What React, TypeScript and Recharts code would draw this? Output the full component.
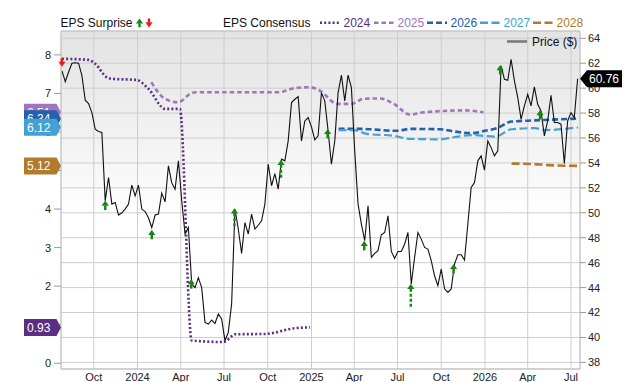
import React from 'react';
import {
  ComposedChart,
  Line,
  Scatter,
  XAxis,
  YAxis,
  CartesianGrid,
  ReferenceDot,
  ReferenceLine,
} from 'recharts';

const DAY = 86400000;
const T = (s: string) => Date.parse(s + 'T00:00:00Z');

// ---------- axes ----------
const xDomainDates = ['2023-07-24', '2026-07-20'];
const xTickDates = [
  '2023-10-01', '2024-01-01', '2024-04-01', '2024-07-01', '2024-10-01', '2025-01-01',
  '2025-04-01', '2025-07-01', '2025-10-01', '2026-01-01', '2026-04-01', '2026-07-01',
];
const xTickLabels = ['Oct', '2024', 'Apr', 'Jul', 'Oct', '2025', 'Apr', 'Jul', 'Oct', '2026', 'Apr', 'Jul'];
const epsTicks = [0, 1, 2, 3, 4, 5, 6, 7, 8];
const epsDomain = [-0.15, 8.62];
const priceTicks = [38, 40, 42, 44, 46, 48, 50, 52, 54, 56, 58, 60, 62, 64];
const priceDomain = [37.47, 64.585];

// ---------- price (weekly closes) ----------
const priceStart = '2023-07-26';
const weeklyPrice = [
  61.38, 60.52, 61.3, 62.0, 62.04, 62.0, 61.0, 59.03, 58.76, 58.04,
  56.7, 56.52, 56.44, 50.96, 52.83, 50.7, 50.83, 49.82, 50.0, 50.3,
  50.7, 52.22, 51.36, 52.22, 50.3, 50.1, 49.6, 48.82, 49.82, 49.9,
  51.58, 50.88, 53.77, 52.4, 51.9, 54.17, 51.0, 48.3, 48.82, 44.29,
  44.0, 44.8, 44.0, 41.21, 41.08, 41.4, 41.13, 41.88, 41.48, 39.75,
  40.41, 42.69, 50.3, 48.7, 46.74, 49.22, 48.3, 49.9, 48.7, 49.0,
  49.36, 50.7, 53.9, 52.17, 53.15, 51.9, 54.3, 54.17, 55.77, 58.84,
  59.11, 59.32, 55.77, 57.37, 57.64, 56.9, 55.85, 56.17, 59.64, 58.98,
  56.57, 53.9, 55.77, 59.64, 61.04, 58.98, 61.04, 60.04, 54.97, 50.7,
  49.1, 47.76, 50.56, 46.42, 46.74, 46.96, 48.24, 48.42, 49.76, 46.9,
  46.34, 46.9, 46.9, 47.49, 48.42, 44.29, 46.42, 48.42, 47.89, 47.22,
  47.09, 46.16, 44.95, 44.15, 45.49, 43.9, 43.62, 43.89, 45.89, 46.64,
  46.64, 46.21, 49.1, 52.03, 52.43, 54.17, 54.57, 53.42, 55.77, 55.23,
  54.57, 54.97, 61.78, 60.71, 60.63, 62.32, 60.58, 59.24, 57.51, 58.58,
  59.51, 58.58, 60.1, 58.71, 58.17, 56.17, 57.37, 59.43, 57.24, 57.24,
  57.11, 53.95, 57.37, 58.04, 57.64, 60.76,
];
const lastPrice = 60.76;

// ---------- EPS consensus by fiscal year ----------
const cons2024: [string, number][] = [
  ['2023-07-26', 7.9], ['2023-09-20', 7.87], ['2023-10-04', 7.77], ['2023-10-28', 7.42],
  ['2023-11-08', 7.38], ['2023-12-30', 7.35], ['2024-01-24', 7.12], ['2024-02-28', 6.6],
  ['2024-03-30', 6.6], ['2024-04-24', 0.59], ['2024-06-30', 0.55], ['2024-07-25', 0.75],
  ['2024-09-26', 0.76], ['2024-11-28', 0.91], ['2024-12-29', 0.93],
];
const cons2025: [string, number][] = [
  ['2024-01-30', 7.29], ['2024-02-28', 6.86], ['2024-03-27', 6.77], ['2024-04-21', 6.99],
  ['2024-05-02', 7.03], ['2024-10-23', 7.03], ['2024-11-28', 7.14], ['2024-12-29', 7.16],
  ['2025-01-19', 7.07], ['2025-02-24', 6.73], ['2025-03-27', 6.73], ['2025-04-20', 6.86],
  ['2025-05-26', 6.87], ['2025-06-23', 6.73], ['2025-07-28', 6.45], ['2025-08-25', 6.51],
  ['2025-11-20', 6.56], ['2025-12-29', 6.51],
];
const cons2026: [string, number][] = [
  ['2025-02-27', 6.08], ['2025-04-14', 6.08], ['2025-06-30', 6.03], ['2025-07-28', 6.08],
  ['2025-09-29', 6.07], ['2025-10-30', 6.01], ['2025-12-04', 5.97], ['2026-01-01', 6.03],
  ['2026-01-26', 6.1], ['2026-02-26', 6.27], ['2026-04-16', 6.3], ['2026-07-16', 6.35],
];
const cons2027: [string, number][] = [
  ['2025-02-27', 6.05], ['2025-03-30', 6.05], ['2025-04-28', 5.95], ['2025-06-23', 5.9],
  ['2025-07-28', 5.82], ['2025-09-29', 5.81], ['2025-10-30', 5.87], ['2025-12-04', 5.92],
  ['2026-01-23', 5.88], ['2026-02-26', 6.07], ['2026-04-16', 6.1], ['2026-05-07', 6.05],
  ['2026-07-16', 6.12],
];
const cons2028: [string, number][] = [
  ['2026-02-26', 5.18], ['2026-04-09', 5.17], ['2026-05-14', 5.14], ['2026-07-16', 5.12],
];
const currentConsensus = { '2024': 0.93, '2025': 6.51, '2026': 6.34, '2027': 6.12, '2028': 5.12 };

// ---------- EPS surprises (date, price at arrow tip, dashed tail end or null) ----------
const beatDates = [
  '2023-10-25', '2024-01-31', '2024-04-23', '2024-07-23', '2024-10-29', '2025-02-04',
  '2025-04-22', '2025-07-29', '2025-10-27', '2026-02-02', '2026-04-27',
];
const beatTips = [50.98, 48.64, 44.68, 50.37, 54.25, 56.73, 47.75, 44.3, 45.9, 61.86, 58.25];
const beatTails: (number | null)[] = [null, null, null, 48.88, 52.8, null, null, 42.3, null, null, null];
const missDates = ['2023-07-26'];
const missTips = [61.72];

// ---------- styles ----------
const GREEN = '#17861a';
const RED = '#e8191a';
const FONT = '"Liberation Sans", Arial, sans-serif';

const consSeries = [
  { year: '2024', pts: cons2024, color: '#5b2d84', dash: '2 2.2', width: 2.6 },
  { year: '2025', pts: cons2025, color: '#a174be', dash: '4.5 3', width: 2.6 },
  { year: '2026', pts: cons2026, color: '#2260b0', dash: '6 3', width: 2.6 },
  { year: '2027', pts: cons2027, color: '#43a2d2', dash: '8 3.5', width: 2.2 },
  { year: '2028', pts: cons2028, color: '#b27b2c', dash: '8 3.5', width: 2.6 },
];
const badgeOrder = ['2025', '2026', '2027', '2028', '2024'];

const priceData = weeklyPrice.map((v, i) => ({ t: T(priceStart) + i * 7 * DAY, v }));
const toPts = (arr: [string, number][]) => arr.map(([d, v]) => ({ t: T(d), v }));
const beatData = beatDates.map((d, i) => ({ t: T(d), v: beatTips[i], tail: beatTails[i] }));
const missData = missDates.map((d, i) => ({ t: T(d), v: missTips[i] }));
const xTicks = xTickDates.map(T);
const xDomain = xDomainDates.map(T);

const UpArrow = (p: any) => {
  const { cx, cy, payload } = p;
  return (
    <g>
      <polygon points={`${cx},${cy} ${cx - 3.6},${cy + 5.2} ${cx + 3.6},${cy + 5.2}`} fill={GREEN} />
      {payload && payload.tail == null && (
        <rect x={cx - 1.25} y={cy + 5} width={2.5} height={4.5} fill={GREEN} />
      )}
    </g>
  );
};
const DownArrow = (p: any) => {
  const { cx, cy } = p;
  return (
    <g>
      <rect x={cx - 1.25} y={cy - 8.5} width={2.5} height={4} fill={RED} />
      <polygon points={`${cx},${cy} ${cx - 3.6},${cy - 5} ${cx + 3.6},${cy - 5}`} fill={RED} />
    </g>
  );
};

const leftBadge = (fill: string, label: string) => (p: any) => {
  const { cx, cy } = p;
  return (
    <g>
      <polygon
        points={`${cx - 37},${cy - 8.5} ${cx - 4.5},${cy - 8.5} ${cx},${cy} ${cx - 4.5},${cy + 8.5} ${cx - 37},${cy + 8.5}`}
        fill={fill}
      />
      <text x={cx - 34} y={cy + 4.2} fill="#fff" fontSize={12} fontFamily={FONT}>
        {label}
      </text>
    </g>
  );
};
const priceBadge = (p: any) => {
  const { cx, cy } = p;
  return (
    <g>
      <polygon
        points={`${cx},${cy} ${cx + 7},${cy - 8.5} ${cx + 42},${cy - 8.5} ${cx + 42},${cy + 8.5} ${cx + 7},${cy + 8.5}`}
        fill="#000"
      />
      <text x={cx + 9} y={cy + 4.2} fill="#fff" fontSize={12} fontFamily={FONT}>
        {lastPrice.toFixed(2)}
      </text>
    </g>
  );
};

const fmtX = (t: number) => {
  const i = xTicks.indexOf(t);
  return i >= 0 ? xTickLabels[i] : '';
};

const MARGIN = { top: 31, right: 0, bottom: 0, left: 0 };

export default function App() {
  return (
    <div style={{ position: 'relative', width: 640, height: 382, fontFamily: FONT, background: '#fff' }}>
      <style>{'body{margin:0;}'}</style>
      <div
        style={{
          position: 'absolute',
          left: 61,
          top: 31,
          width: 519,
          height: 338,
          background: 'linear-gradient(to bottom, #e3e3e3 0%, #f1f1f1 30%, #ffffff 55%)',
        }}
      />
      <ComposedChart width={640} height={382} margin={MARGIN}>
        <CartesianGrid yAxisId="right" stroke="#cdcdcd" strokeWidth={1} />
        <XAxis
          dataKey="t"
          type="number"
          domain={xDomain}
          ticks={xTicks}
          tickFormatter={fmtX}
          interval={0}
          tickLine={false}
          tickSize={0}
          tickMargin={4}
          height={13}
          axisLine={{ stroke: '#bdbdbd' }}
          tick={{ fontSize: 11, fill: '#222' }}
        />
        <YAxis
          yAxisId="left"
          orientation="left"
          type="number"
          domain={epsDomain}
          ticks={epsTicks}
          interval={0}
          width={61}
          tickSize={7}
          tickMargin={3}
          axisLine={{ stroke: '#c4c4c4' }}
          tickLine={{ stroke: '#9a9a9a' }}
          tick={{ fontSize: 11, fill: '#222' }}
        />
        <YAxis
          yAxisId="right"
          orientation="right"
          type="number"
          domain={priceDomain}
          ticks={priceTicks}
          interval={0}
          width={60}
          tickSize={6}
          tickMargin={2}
          axisLine={{ stroke: '#c4c4c4' }}
          tickLine={{ stroke: '#9a9a9a' }}
          tick={{ fontSize: 11, fill: '#222', textAnchor: 'start' }}
        />
        <ReferenceLine yAxisId="right" y={priceDomain[1]} stroke="#c4c4c4" />
        {consSeries.map((s) => (
          <Line
            key={s.year}
            data={toPts(s.pts)}
            dataKey="v"
            yAxisId="left"
            type="monotone"
            stroke={s.color}
            strokeWidth={s.width}
            strokeDasharray={s.dash}
            dot={false}
            activeDot={false}
            isAnimationActive={false}
          />
        ))}
        <Line
          data={priceData}
          dataKey="v"
          yAxisId="right"
          type="linear"
          stroke="#111"
          strokeWidth={1.1}
          dot={false}
          activeDot={false}
          isAnimationActive={false}
        />
        {beatData
          .filter((b) => b.tail != null)
          .map((b) => (
            <Line
              key={'tail' + b.t}
              data={[{ t: b.t, v: b.v - 0.4 }, { t: b.t, v: b.tail as number }]}
              dataKey="v"
              yAxisId="right"
              stroke={GREEN}
              strokeWidth={2.4}
              strokeDasharray="3 2"
              dot={false}
              activeDot={false}
              isAnimationActive={false}
            />
          ))}
        <Scatter data={beatData} dataKey="v" yAxisId="right" shape={UpArrow} isAnimationActive={false} />
        <Scatter data={missData} dataKey="v" yAxisId="right" shape={DownArrow} isAnimationActive={false} />
      </ComposedChart>
      {/* overlay chart with identical axes so the value badges sit above the tick labels */}
      <div style={{ position: 'absolute', left: 0, top: 0, pointerEvents: 'none' }}>
        <ComposedChart width={640} height={382} margin={MARGIN}>
          <XAxis
            dataKey="t"
            type="number"
            domain={xDomain}
            height={13}
            tick={false}
            tickLine={false}
            axisLine={false}
          />
          <YAxis yAxisId="left" orientation="left" type="number" domain={epsDomain} width={61} tick={false} tickLine={false} axisLine={false} />
          <YAxis yAxisId="right" orientation="right" type="number" domain={priceDomain} width={60} tick={false} tickLine={false} axisLine={false} />
          <Line
            data={toPts(cons2024)}
            dataKey="v"
            yAxisId="left"
            stroke="none"
            strokeOpacity={0}
            dot={false}
            activeDot={false}
            isAnimationActive={false}
          />
          <Line
            data={priceData}
            dataKey="v"
            yAxisId="right"
            stroke="none"
            strokeOpacity={0}
            dot={false}
            activeDot={false}
            isAnimationActive={false}
          />
          {badgeOrder.map((y) => {
            const s = consSeries.find((c) => c.year === y)!;
            const val = (currentConsensus as any)[y] as number;
            return (
              <ReferenceDot
                key={'badge' + y}
                yAxisId="left"
                x={xDomain[0]}
                y={val}
                ifOverflow="visible"
                shape={leftBadge(s.color, val.toFixed(2))}
              />
            );
          })}
          <ReferenceDot yAxisId="right" x={xDomain[1]} y={lastPrice} ifOverflow="visible" shape={priceBadge} />
        </ComposedChart>
      </div>
      <svg
        width={640}
        height={382}
        style={{ position: 'absolute', left: 0, top: 0, pointerEvents: 'none' }}
        fontFamily={FONT}
      >
        <text x={60.5} y={27.3} fontSize={12} fill="#111">EPS Surprise</text>
        <polygon points="139.5,18.5 135.9,23.5 143.1,23.5" fill={GREEN} />
        <rect x={138.3} y={23.3} width={2.4} height={4} fill={GREEN} />
        <rect x={147.8} y={18.5} width={2.4} height={4} fill={RED} />
        <polygon points="149,27.5 145.4,22.3 152.6,22.3" fill={RED} />
        <text x={223} y={27.3} fontSize={12} fill="#111">EPS Consensus</text>
        {consSeries.map((s, i) => {
          const x0 = [320, 374, 427, 480, 533][i];
          return (
            <g key={'lg' + s.year}>
              <line x1={x0} x2={x0 + 20} y1={22.8} y2={22.8} stroke={s.color} strokeWidth={2.6} strokeDasharray={s.dash} />
              <text x={x0 + 23.5} y={27.3} fontSize={12} fill={s.color}>{s.year}</text>
            </g>
          );
        })}
        <line x1={507} x2={527} y1={41.5} y2={41.5} stroke="#7a7a7a" strokeWidth={2.6} />
        <text x={532} y={45.8} fontSize={12} fill="#111">Price ($)</text>
      </svg>
    </div>
  );
}
